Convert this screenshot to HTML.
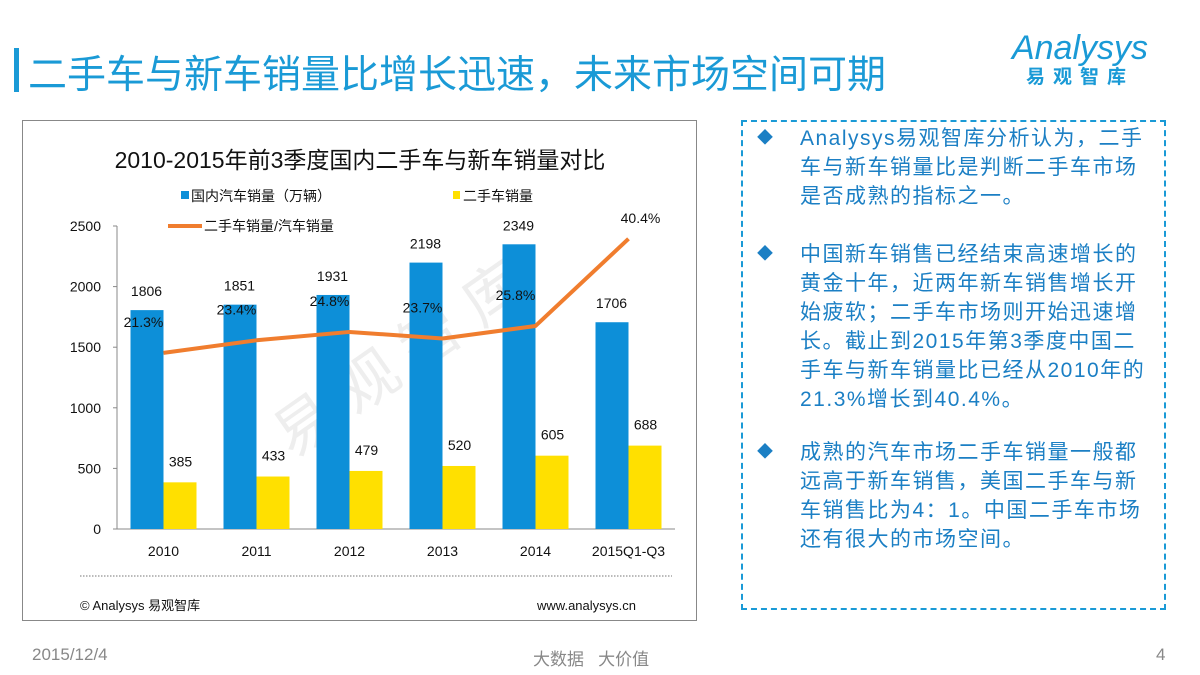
<!DOCTYPE html>
<html><head><meta charset="utf-8"><style>
body{margin:0;width:1200px;height:675px;background:#fff;font-family:"Liberation Sans","Noto Sans CJK SC",sans-serif;position:relative;overflow:hidden}
.abs{position:absolute}
.tb{color:#1b7fc4;font-size:21px;line-height:29px;letter-spacing:1.5px}
.tb p{margin:0 0 29px 0;position:relative;padding-left:57px;width:355px}
.tb p span.d{position:absolute;left:14px;top:0;font-size:16px;color:#1b7fc4}
</style></head><body>
<div class="abs" style="left:14px;top:48px;width:5px;height:44px;background:#1a9ad6"></div>
<div class="abs" style="left:28px;top:44px;font-size:39px;color:#1a9ad6;white-space:nowrap">二手车与新车销量比增长迅速，未来市场空间可期</div>
<div class="abs" style="left:990px;top:30px;width:180px;text-align:center;color:#1a9ad6">
<div style="font-size:34px;font-style:italic;line-height:36px">Analysys</div>
<div style="font-size:19px;font-weight:bold;letter-spacing:8px;line-height:24px">易观智库</div></div>

<div class="abs" style="left:22px;top:120px;width:673px;height:499px;border:1px solid #888"></div>
<svg class="abs" style="left:0;top:0" width="1200" height="675" id="ch"></svg>

<div class="abs tb" style="left:741px;top:120px;width:425px;height:490px;border:2px dashed #1a9ad6;box-sizing:border-box;padding-top:2px">
<p><span class="d">◆</span>Analysys易观智库分析认为，二手车与新车销量比是判断二手车市场是否成熟的指标之一。</p>
<p style="margin-bottom:24px"><span class="d">◆</span>中国新车销售已经结束高速增长的黄金十年，近两年新车销售增长开始疲软；二手车市场则开始迅速增长。截止到2015年第3季度中国二手车与新车销量比已经从2010年的21.3%增长到40.4%。</p>
<p><span class="d">◆</span>成熟的汽车市场二手车销量一般都远高于新车销售，美国二手车与新车销售比为4：1。中国二手车市场还有很大的市场空间。</p>
</div>
<div class="abs" style="left:32px;top:645px;font-size:17px;color:#888">2015/12/4</div>
<div class="abs" style="left:533px;top:645px;font-size:17px;color:#888;white-space:pre">大数据   大价值</div>
<div class="abs" style="left:1156px;top:645px;font-size:17px;color:#888">4</div>
<script>
const categories=["2010","2011","2012","2013","2014","2015Q1-Q3"];
const newCars=[1806,1851,1931,2198,2349,1706];
const usedCars=[385,433,479,520,605,688];
const ratio=[21.3,23.4,24.8,23.7,25.8,40.4];
const yTicks=[0,500,1000,1500,2000,2500];
const NS="http://www.w3.org/2000/svg";
const svg=document.getElementById('ch');
const x0=117,cw=93,yb=529,ppu=303/2500;
const y=v=>yb-v*ppu;
const yr=v=>480-v*5.97;
const cx=i=>x0+cw*i+cw/2;
function mk(t,a,p){const e=document.createElementNS(NS,t);for(const k in a)e.setAttribute(k,a[k]);(p||svg).appendChild(e);return e;}
function tx(s,x,yy,o){const e=mk('text',Object.assign({x:x,y:yy,'font-size':14,fill:'#111','text-anchor':'middle'},o||{}));e.textContent=s;return e;}
let t=tx("2010-2015年前3季度国内二手车与新车销量对比",360,168,{'font-size':23});

let w=tx("易 观 智 库",400,380,{'font-size':60,fill:'#eee',transform:'rotate(-35 400 360)'});

let l=mk('rect',{x:181,y:191,width:8,height:8,fill:'#0d8fd8'});
tx("国内汽车销量（万辆）",191,201,{'text-anchor':'start','font-size':14});
l=mk('rect',{x:453,y:191,width:7,height:8,fill:'#ffe000'});
tx("二手车销量",463,201,{'text-anchor':'start','font-size':14});
l=mk('line',{x1:168,y1:226,x2:202,y2:226,stroke:'#f07d2e','stroke-width':4});
tx("二手车销量/汽车销量",204,231,{'text-anchor':'start','font-size':14});
let ax=mk('line',{x1:x0,y1:226,x2:x0,y2:yb,stroke:'#888'});
ax=mk('line',{x1:x0,y1:yb,x2:x0+cw*6,y2:yb,stroke:'#888'});
yTicks.forEach(v=>{mk('line',{x1:x0-4,y1:y(v),x2:x0,y2:y(v),stroke:'#888'});const e=tx(String(v),101,y(v)+5,{'text-anchor':'end'});});
categories.forEach((c,i)=>{
 let b=mk('rect',{x:cx(i)-33,y:y(newCars[i]),width:33,height:newCars[i]*ppu,fill:'#0d8fd8'});
 
 b=mk('rect',{x:cx(i),y:y(usedCars[i]),width:33,height:usedCars[i]*ppu,fill:'#ffe000'});
 
 tx(String(newCars[i]),cx(i)-17,y(newCars[i])-14);
 tx(String(usedCars[i]),cx(i)+17,y(usedCars[i])-16);
 let e=tx(c,cx(i),556);
});
let pts=ratio.map((v,i)=>cx(i)+','+yr(v)).join(' ');
let pl=mk('polyline',{points:pts,fill:'none',stroke:'#f07d2e','stroke-width':4,'stroke-linejoin':'round'});

ratio.forEach((v,i)=>{let e=tx(v.toFixed(1)+'%',cx(i)+(i==5?12:-20),yr(v)-26+(i==5?10:0));});
mk('line',{x1:80,y1:576,x2:672,y2:576,stroke:'#777','stroke-dasharray':'1.5 1.5'});
tx("© Analysys 易观智库",80,610,{'text-anchor':'start','font-size':13});
tx("www.analysys.cn",636,610,{'text-anchor':'end','font-size':13});
</script>
</body></html>
